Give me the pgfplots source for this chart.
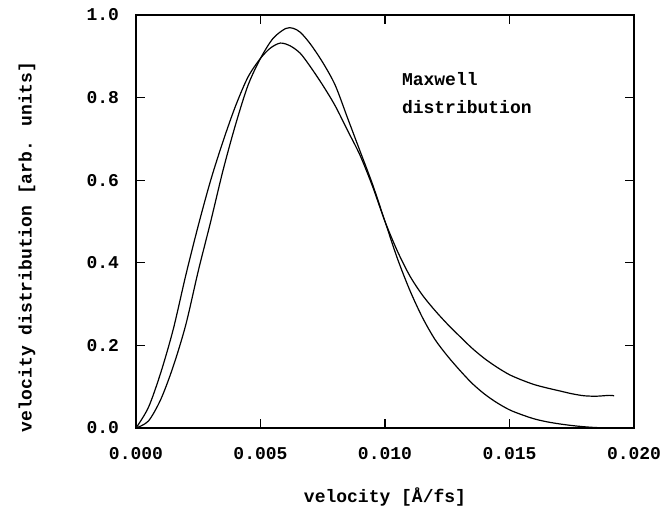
\documentclass[border=0pt]{standalone}
\usepackage{fontspec}
\setmainfont{Liberation Mono}
\usepackage{pgfplots}
\pgfplotsset{compat=1.18}

% broad measured distribution (with tail)
\pgfplotstableread{
x y
0 0
0.0005 0.05
0.001 0.135
0.0015 0.24
0.002 0.37
0.0025 0.49
0.003 0.60
0.0035 0.695
0.004 0.78
0.0045 0.85
0.005 0.895
0.0054 0.92
0.0058 0.932
0.0062 0.925
0.0066 0.907
0.007 0.875
0.0075 0.83
0.008 0.78
0.0085 0.72
0.009 0.66
0.0095 0.585
0.010 0.50
0.0105 0.428
0.011 0.368
0.0115 0.322
0.012 0.285
0.0125 0.252
0.013 0.222
0.0135 0.193
0.014 0.168
0.0145 0.147
0.015 0.129
0.0155 0.116
0.016 0.105
0.0165 0.097
0.017 0.09
0.0175 0.083
0.018 0.078
0.0185 0.077
0.019 0.079
0.0192 0.078
}\broad

% Maxwell fit
\pgfplotstableread{
x y
0 0
0.0005 0.017
0.001 0.07
0.0015 0.15
0.002 0.25
0.0025 0.38
0.003 0.50
0.0035 0.625
0.004 0.735
0.0045 0.83
0.005 0.895
0.0055 0.943
0.006 0.967
0.0063 0.968
0.0066 0.958
0.007 0.93
0.0075 0.885
0.008 0.83
0.0085 0.75
0.009 0.67
0.0095 0.59
0.010 0.50
0.0105 0.41
0.011 0.333
0.0115 0.268
0.012 0.215
0.0125 0.175
0.013 0.14
0.0135 0.108
0.014 0.082
0.0145 0.061
0.015 0.044
0.0155 0.032
0.016 0.022
0.0165 0.015
0.017 0.01
0.0175 0.006
0.018 0.003
0.0185 0.001
0.0192 0.0
}\maxwell

\begin{document}
\begin{tikzpicture}
\begin{axis}[
    scale only axis,
    width=249pt, height=206.5pt,
    xmin=0, xmax=0.020, ymin=0, ymax=1.0,
    xtick={0,0.005,0.010,0.015,0.020},
    ytick={0,0.2,0.4,0.6,0.8,1.0},
    scaled x ticks=false,
    xticklabel style={/pgf/number format/.cd, fixed, fixed zerofill, precision=3, /tikz/.cd, yshift=-6pt},
    yticklabel style={/pgf/number format/.cd, fixed, fixed zerofill, precision=1, /tikz/.cd, xshift=-5pt},
    /pgf/number format/assume math mode=true,
    tick label style={font=\fontsize{9}{10}\selectfont\bfseries},
    label style={font=\fontsize{9}{10}\selectfont\bfseries},
    major tick length=4.5pt,
    tick align=inside,
    axis line style={line width=0.6pt},
    tick style={line width=0.6pt, black},
    xlabel={velocity [Å/fs]},
    ylabel={velocity distribution [arb. units]},
    x label style={at={(axis description cs:0.5,-0.167)}, anchor=center},
    y label style={at={(axis description cs:-0.219,0.438)}, anchor=center},
    clip=false,
]
\addplot[black, line width=0.6pt, smooth] table {\broad};
\addplot[black, line width=0.6pt, smooth] table {\maxwell};
\node[anchor=west, align=left, font=\fontsize{9}{14}\selectfont\bfseries] at (axis cs:0.0104,0.81) {Maxwell\\distribution};
\end{axis}
\pgfresetboundingbox
\path (-68pt,-42pt) rectangle (263pt,214pt);
\end{tikzpicture}
\end{document}
